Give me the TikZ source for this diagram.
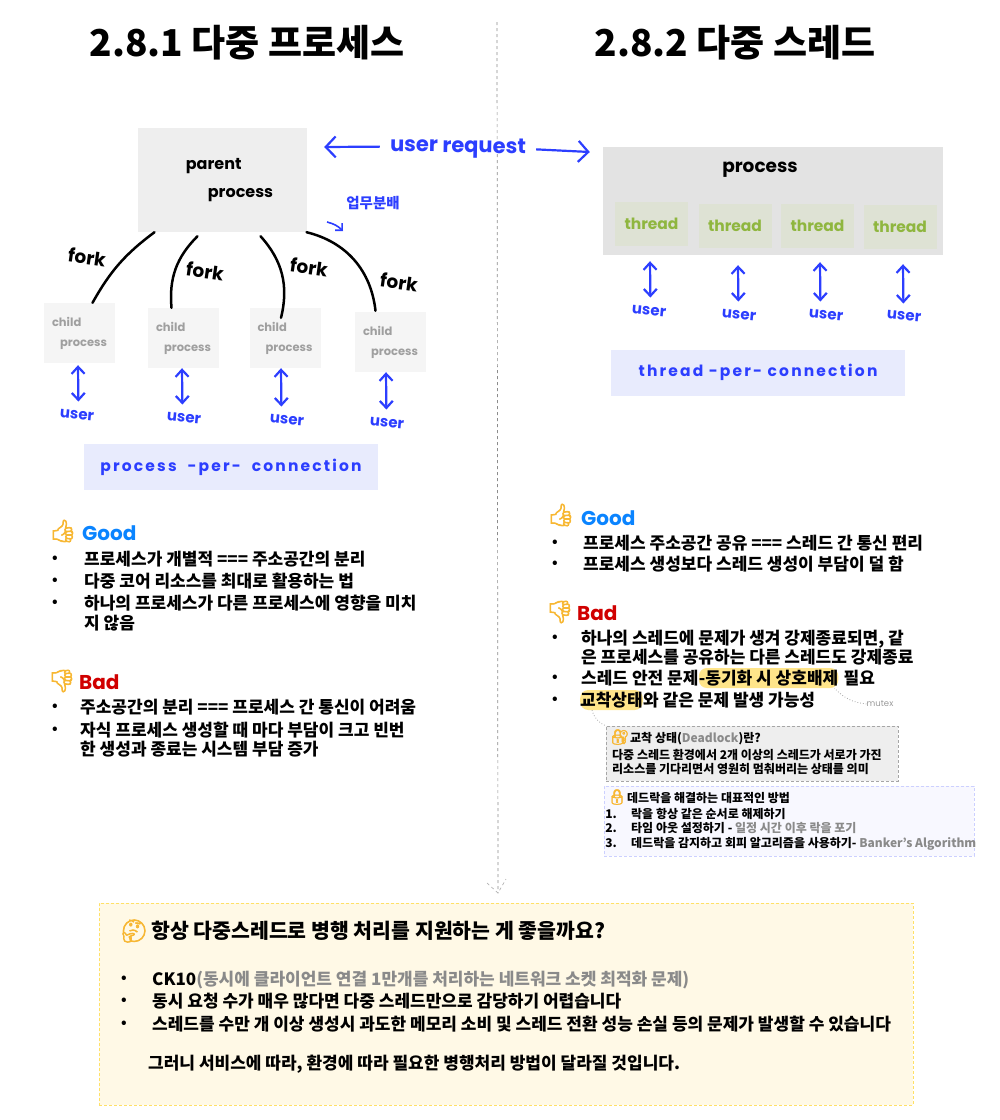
\documentclass[tikz,border=0pt]{standalone}
\usepackage{fontspec}
\usepackage{xcolor}
\setmainfont{Noto Sans CJK KR}
\newfontfamily\handfont{Poppins}
\newfontfamily\handwide[LetterSpace=14]{Poppins}
\newfontfamily\emojifont[FakeBold=3]{Noto Emoji}
\usetikzlibrary{positioning, arrows.meta}
\definecolor{penblue}{HTML}{2C3EFF}
\definecolor{goodblue}{HTML}{0A84FF}
\definecolor{badred}{HTML}{D00000}
\definecolor{softgray}{HTML}{8A8A8A}
\definecolor{emojiyellow}{HTML}{F7B733}
\definecolor{parentfill}{HTML}{EEEEEE}
\definecolor{childfill}{HTML}{F5F5F5}
\definecolor{processfill}{HTML}{E3E3E3}
\definecolor{threadfill}{HTML}{DEE2D4}
\definecolor{threadgreen}{HTML}{8FB63F}
\definecolor{bannerfill}{HTML}{E8EBFD}
\definecolor{markyellow}{HTML}{FFE58A}
\definecolor{fixfill}{HTML}{F8F8FF}
\definecolor{fixline}{HTML}{CCD0FF}
\definecolor{questionfill}{HTML}{FFF9E6}
\definecolor{questionline}{HTML}{FFE066}
\tikzset{
x=1pt, y=1pt, % one point is one pixel of the page
>={Straight Barb[length=7pt, width=13pt]}, % open arrow heads like a pen stroke
headline/.style={font=\bfseries\fontsize{37}{44}\selectfont},
body/.style={anchor=west, inner sep=0pt, text height=14pt, text depth=2pt, font=\bfseries\fontsize{17}{21}\selectfont}, % one line of text
dot/.style={inner sep=0pt, font=\bfseries\fontsize{14}{16}\selectfont},
goodlabel/.style={anchor=west, inner sep=0pt, text=goodblue, font=\handfont\bfseries\fontsize{20}{24}\selectfont},
badlabel/.style={anchor=west, inner sep=0pt, text=badred, font=\handfont\bfseries\fontsize{20}{24}\selectfont},
emoji/.style={inner sep=0pt, text=emojiyellow, font=\emojifont\fontsize{22}{24}\selectfont},
parentbox/.style={fill=parentfill, minimum width=169pt, minimum height=104pt, align=left, font=\handfont\bfseries\fontsize{16}{27}\selectfont},
childbox/.style={fill=childfill, text=gray!75, minimum width=71pt, minimum height=60pt, inner sep=0pt, align=left, font=\handfont\bfseries\fontsize{11.5}{20}\selectfont},
threadbox/.style={fill=threadfill, text=threadgreen, minimum width=73pt, minimum height=44pt, inner sep=0pt, font=\handfont\bfseries\fontsize{15.5}{20}\selectfont},
banner/.style={fill=bannerfill, text=penblue, minimum width=294pt, minimum height=46pt, font=\handwide\bfseries\fontsize{15.5}{20}\selectfont},
pen/.style={text=penblue, inner sep=0pt, font=\handfont\bfseries\fontsize{15}{18}\selectfont},
blackpen/.style={inner sep=0pt, font=\handfont\bfseries\fontsize{18.5}{20}\selectfont},
fork/.style={line width=2.5pt, line cap=round},
userlink/.style={<->, penblue, line width=2.2pt},
requestlink/.style={->, >={Straight Barb[length=10pt, width=21pt]}, penblue, line width=2.2pt},
scribble/.style={gray!70, dotted, line width=.8pt},
divider/.style={gray!90, dash pattern=on 3pt off 3pt, line width=.7pt},
hl/.style={body, fill=markyellow, rounded corners=8pt, minimum height=20pt},
small/.style={anchor=west, inner sep=0pt, text height=10.5pt, text depth=1.5pt, font=\bfseries\fontsize{12}{15}\selectfont},
}
\begin{document}
\begin{tikzpicture}
    \useasboundingbox (0,0) rectangle (1000,-1120);
    % divider and its tip
    \coordinate (top) at (497,-22);
    \coordinate (tip) at (498,-893);
    \coordinate (armL) at (487,-883);
    \coordinate (armR) at (506,-879);
    \draw[divider] (top) -- (tip);
    \draw[divider, gray!60] (armL) -- (tip) -- (armR);
    % titles
    \node[headline] (title1) at (247,-43) {2.8.1 다중 프로세스};
    \node[headline] (title2) at (735,-43) {2.8.2 다중 스레드};
    % left picture
    \node[parentbox] (parent) at (222.5,-180) {\hspace{14pt}parent\\[1pt]\hspace{36pt}process};
    \node[childbox] (c1) at (79.5,-333) {child\\\hspace{8pt}process};
    \node[childbox] (c2) at (183.5,-338) {child\\\hspace{8pt}process};
    \node[childbox] (c3) at (285,-338) {child\\\hspace{8pt}process};
    \node[childbox] (c4) at (390.5,-342) {child\\\hspace{8pt}process};
    \node[pen, rotate=-5] (u1) at (77,-415) {user};
    \node[pen, rotate=-5] (u2) at (184,-418) {user};
    \node[pen, rotate=-5] (u3) at (287,-420) {user};
    \node[pen, rotate=-5] (u4) at (387,-423) {user};
    \node[blackpen, rotate=-8] (f1) at (87,-257) {fork};
    \node[blackpen, rotate=-8] (f2) at (205,-271) {fork};
    \node[blackpen, rotate=-8] (f3) at (309,-267) {fork};
    \node[blackpen, rotate=-8] (f4) at (399,-282) {fork};
    \node[banner] (pbanner) at (231,-467) {process\ \ -per-\ \ connection};
    \node[pen, font=\bfseries\fontsize{14.5}{15}\selectfont] (share) at (373,-203) {업무분배};
    \coordinate (sharefrom) at (327,-222);
    \coordinate (shareto) at (343,-231);
    \draw
        ([xshift=-68pt]parent.south) edge[fork, bend right=12] ([xshift=13pt]c1.north)
        ([yshift=-4pt,xshift=-25pt]parent.south) edge[fork, bend right=25] ([xshift=-12pt]c2.north)
        ([yshift=-4pt,xshift=38pt]parent.south) edge[fork, bend left=28] ([shift={(-4pt,-10pt)}]c3.north)
        ([xshift=84pt]parent.south) edge[fork, bend left=35] ([xshift=-15pt,yshift=1pt]c4.north)
        ([xshift=-1.5pt,yshift=-2pt]c1.south) edge[userlink] ([xshift=1pt,yshift=9pt]u1.north)
        ([xshift=-1.5pt]c2.south) edge[userlink] ([xshift=-2pt,yshift=9pt]u2.north)
        ([xshift=-4pt]c3.south) edge[userlink] ([xshift=-6pt,yshift=9pt]u3.north)
        ([xshift=-4.5pt]c4.south) edge[userlink] ([xshift=-1pt,yshift=9pt]u4.north)
        (sharefrom) edge[penblue, line width=1.6pt, ->, >={Straight Barb[length=5pt, width=10pt]}, bend left=15] (shareto)
        ;
    % right picture
    \node[fill=processfill, minimum width=340pt, minimum height=108pt] (procbox) at (773,-201) {};
    \node[blackpen] (proclabel) at (760,-170) {process};
    \node[threadbox] (t1) at (651.5,-224) {thread};
    \node[threadbox] (t2) at (735,-226) {thread};
    \node[threadbox] (t3) at (817.5,-225.5) {thread};
    \node[threadbox] (t4) at (900,-226.5) {thread};
    \node[pen, rotate=-5] (v1) at (649,-311) {user};
    \node[pen, rotate=-5] (v2) at (739,-315) {user};
    \node[pen, rotate=-5] (v3) at (826,-315) {user};
    \node[pen, rotate=-5] (v4) at (904,-316) {user};
    \node[banner] (tbanner) at (758,-372.5) {thread -per- connection};
    \node[pen, rotate=-1, inner xsep=10pt, font=\handfont\bfseries\fontsize{21}{24}\selectfont] (request) at (458,-148) {user request};
    \draw
        ([xshift=-123pt,yshift=-6pt]procbox.south) edge[userlink] ([xshift=1pt,yshift=9pt]v1.north)
        ([xshift=-35pt,yshift=-10pt]procbox.south) edge[userlink] ([xshift=-1pt,yshift=9pt]v2.north)
        ([xshift=47pt,yshift=-7pt]procbox.south) edge[userlink] ([xshift=-6pt,yshift=9pt]v3.north)
        ([xshift=130pt,yshift=-9pt]procbox.south) edge[userlink] ([xshift=-1pt,yshift=8pt]v4.north)
        (request.west) edge[requestlink] ([shift={(17pt,33pt)}]parent.east)
        (request.east) edge[requestlink] ([shift={(-13pt,49pt)}]procbox.west)
        ;
    % left lists
    \node[emoji] (e1) at (63,-531) {👍};
    \node[goodlabel] (good1) at (82,-533) {Good};
    \node[body] (l1) at (84,-559.5) {프로세스가 개별적 === 주소공간의 분리};
    \node[body] (l2) at (84,-581) {다중 코어 리소스를 최대로 활용하는 법};
    \node[body] (l3) at (84,-603) {하나의 프로세스가 다른 프로세스에 영향을 미치};
    \node[body] (l4) at (84,-623) {지 않음};
    \node[dot, left=26pt of l1] (d1) {•};
    \node[dot, left=26pt of l2] (d2) {•};
    \node[dot, left=26pt of l3] (d3) {•};
    \node[emoji] (e2) at (62,-681) {👎};
    \node[badlabel] (bad1) at (79,-682) {Bad};
    \node[body] (l5) at (80,-707) {주소공간의 분리 === 프로세스 간 통신이 어려움};
    \node[body] (l6) at (80,-730) {자식 프로세스 생성할 때 마다 부담이 크고 빈번};
    \node[body] (l7) at (80,-749) {한 생성과 종료는 시스템 부담 증가};
    \node[dot, left=22pt of l5] (d4) {•};
    \node[dot, left=22pt of l6] (d5) {•};
    % right lists
    \node[emoji] (e3) at (561,-515) {👍};
    \node[goodlabel] (good2) at (581,-518) {Good};
    \node[body] (r1) at (583,-543) {프로세스 주소공간 공유 === 스레드 간 통신 편리};
    \node[body] (r2) at (583,-564) {프로세스 생성보다 스레드 생성이 부담이 덜 함};
    \node[dot, left=25pt of r1] (d6) {•};
    \node[dot, left=25pt of r2] (d7) {•};
    \node[emoji] (e4) at (560,-612) {👎};
    \node[badlabel] (bad2) at (577,-613) {Bad};
    \node[body] (r3) at (581,-638) {하나의 스레드에 문제가 생겨 강제종료되면, 같};
    \node[body] (r4) at (581,-657) {은 프로세스를 공유하는 다른 스레드도 강제종료};
    \node[body] (r5) at (581,-678) {스레드 안전 문제};
    \node[hl, right=0pt of r5] (mark1) {-동기화 시 상호배제};
    \node[body, right=5pt of mark1] (r5b) {필요};
    \node[hl] (mark2) at (580,-700) {교착상태};
    \node[body, right=0pt of mark2] (r6) {와 같은 문제 발생 가능성};
    \node[dot, left=23pt of r3] (d8) {•};
    \node[dot, left=23pt of r5] (d9) {•};
    \node[dot, left=22pt of mark2] (d10) {•};
    \node[inner sep=0pt, text=gray!80, font=\handfont\fontsize{8.5}{10}\selectfont] (mutex) at (880,-704) {mutex};
    % deadlock boxes
    \node[fill=parentfill, draw=gray!70, densely dashed, minimum width=292pt, minimum height=55pt] (deadbox) at (752,-753.5) {};
    \node[fill=fixfill, draw=fixline, densely dashed, minimum width=370pt, minimum height=70pt] (fixbox) at (789,-821) {};
    \node[emoji, font=\emojifont\fontsize{15}{17}\selectfont] (lock1) at (620,-737) {🔐};
    \node[small] (dt) at (630,-738) {교착 상태(\textcolor{softgray}{Deadlock})란?};
    \node[small] (d1a) at (612,-755) {다중 스레드 환경에서 2개 이상의 스레드가 서로가 가진};
    \node[small] (d1b) at (612,-769) {리소스를 기다리면서 영원히 멈춰버리는 상태를 의미};
    \node[emoji, font=\emojifont\fontsize{15}{17}\selectfont] (lock2) at (617,-797) {🔒};
    \node[small] (ft) at (627,-798) {데드락을 해결하는 대표적인 방법};
    \node[small] (f1) at (631,-814) {락을 항상 같은 순서로 해제하기};
    \node[small] (f2) at (631,-828) {타임 아웃 설정하기 - \textcolor{softgray}{일정 시간 이후 락을 포기}};
    \node[small] (f3) at (631,-843) {데드락을 감지하고 회피 알고리즘을 사용하기- \textcolor{softgray}{Banker's Algorithm}};
    \node[small, left=14pt of f1] (n1) {1.};
    \node[small, left=14pt of f2] (n2) {2.};
    \node[small, left=14pt of f3] (n3) {3.};
    \draw
        (mutex.west) edge[scribble, bend left=20] ([xshift=-4pt]mark1.south east)
        ([xshift=12pt]mark2.south west) edge[scribble, bend right=25] (deadbox.north west)
        ;
    % question box
    \node[fill=questionfill, draw=questionline, densely dashed, minimum width=814pt, minimum height=202pt] (qbox) at (506,-1004) {};
    \node[emoji, font=\emojifont\fontsize{22}{24}\selectfont] (think) at (134,-931) {🤔};
    \node[body, font=\bfseries\fontsize{20.5}{24}\selectfont] (q) at (151,-932) {항상 다중스레드로 병행 처리를 지원하는 게 좋을까요?};
    \node[body] (q1) at (152,-979) {CK10\textcolor{softgray}{(동시에 클라이언트 연결 1만개를 처리하는 네트워크 소켓 최적화 문제)}};
    \node[body] (q2) at (152,-1001) {동시 요청 수가 매우 많다면 다중 스레드만으로 감당하기 어렵습니다};
    \node[body] (q3) at (152,-1024) {스레드를 수만 개 이상 생성시 과도한 메모리 소비 및 스레드 전환 성능 손실 등의 문제가 발생할 수 있습니다};
    \node[body] (q4) at (148,-1063) {그러니 서비스에 따라, 환경에 따라 필요한 병행처리 방법이 달라질 것입니다.};
    \node[dot, left=25pt of q1] (d11) {•};
    \node[dot, left=25pt of q2] (d12) {•};
    \node[dot, left=25pt of q3] (d13) {•};
\end{tikzpicture}
\end{document}
